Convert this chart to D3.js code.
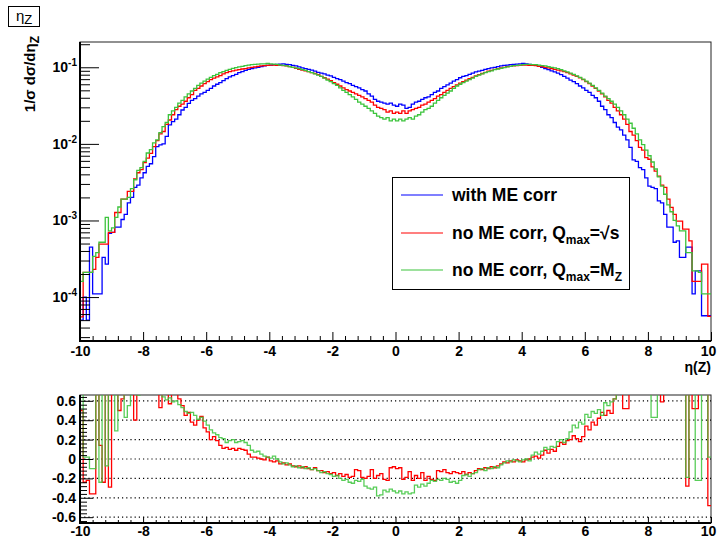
<!DOCTYPE html>
<html>
<head>
<meta charset="utf-8">
<script src="https://cdn.jsdelivr.net/npm/d3@7"></script>
<style>
  body { margin: 0; background: #fff; }
  text { font-family: "Liberation Sans", Arial, Helvetica, sans-serif; }
</style>
</head>
<body>
<svg id="chart" width="717" height="543"></svg>
<script>
// histogram binning: 200 bins of 0.1 from -10 to 10
const binLow = -10;
const binWidth = 0.1;

// 1/sigma dsigma/deta_Z, with ME corr (blue)
const withME = [
  5.0e-5, 1.0e-4, 5.0e-5, 4.5e-4, 1.1e-4, 1.1e-4, 1.1e-4, 3.3e-4, 2.7e-4, 6.8e-4,
  7.0e-4, 8.2e-4, 8.2e-4, 1.03e-3, 1.2e-3, 1.7e-3, 2.0e-3, 2.7e-3, 2.9e-3, 3.6e-3,
  4.2e-3, 5.1e-3, 5.5e-3, 6.8e-3, 9.2e-3, 9.7e-3, 1.0e-2, 1.25e-2, 1.77e-2, 1.95e-2,
  2.1e-2, 2.4e-2, 2.77e-2, 3.0e-2, 3.37e-2, 3.7e-2, 3.9e-2, 4.2e-2, 4.5e-2, 4.7e-2,
  5.0e-2, 5.3e-2, 5.7e-2, 6.0e-2, 6.3e-2, 6.7e-2, 7.1e-2, 7.5e-2, 7.8e-2, 8.1e-2,
  8.5e-2, 8.8e-2, 9.1e-2, 9.4e-2, 9.6e-2, 9.8e-2, 1.00e-1, 1.02e-1, 1.04e-1, 1.06e-1,
  1.07e-1, 1.08e-1, 1.09e-1, 1.10e-1, 1.11e-1, 1.09e-1, 1.08e-1, 1.06e-1, 1.04e-1, 1.01e-1,
  9.8e-2, 9.6e-2, 9.4e-2, 9.2e-2, 8.9e-2, 8.6e-2, 8.4e-2, 8.2e-2, 7.9e-2, 7.7e-2,
  7.4e-2, 7.1e-2, 6.9e-2, 6.6e-2, 6.3e-2, 6.1e-2, 5.8e-2, 5.6e-2, 5.4e-2, 5.1e-2,
  4.9e-2, 4.5e-2, 4.2e-2, 3.8e-2, 3.6e-2, 3.5e-2, 3.4e-2, 3.3e-2, 3.4e-2, 3.2e-2,
  3.1e-2, 3.3e-2, 3.2e-2, 2.9e-2, 3.0e-2, 3.3e-2, 3.5e-2, 3.6e-2, 3.8e-2, 4.0e-2,
  4.1e-2, 4.4e-2, 4.7e-2, 4.9e-2, 5.3e-2, 5.6e-2, 5.9e-2, 6.2e-2, 6.6e-2, 6.9e-2,
  7.3e-2, 7.6e-2, 7.8e-2, 8.1e-2, 8.4e-2, 8.7e-2, 8.9e-2, 9.1e-2, 9.4e-2, 9.6e-2,
  9.8e-2, 1.00e-1, 1.02e-1, 1.04e-1, 1.06e-1, 1.07e-1, 1.08e-1, 1.09e-1, 1.10e-1, 1.11e-1,
  1.12e-1, 1.11e-1, 1.09e-1, 1.08e-1, 1.06e-1, 1.03e-1, 1.00e-1, 9.6e-2, 9.3e-2, 9.0e-2,
  8.7e-2, 8.4e-2, 8.0e-2, 7.6e-2, 7.2e-2, 6.8e-2, 6.5e-2, 6.1e-2, 5.7e-2, 5.4e-2,
  5.0e-2, 4.7e-2, 4.3e-2, 4.0e-2, 3.6e-2, 3.1e-2, 2.8e-2, 2.4e-2, 2.2e-2, 1.9e-2,
  1.65e-2, 1.52e-2, 1.3e-2, 1.13e-2, 9.0e-3, 6.2e-3, 5.9e-3, 4.9e-3, 4.6e-3, 3.6e-3,
  2.8e-3, 2.7e-3, 2.6e-3, 1.8e-3, 1.7e-3, 1.2e-3, 8.2e-4, 8.2e-4, 5.2e-4, 5.4e-4,
  3.3e-4, 3.3e-4, 4.5e-4, 4.5e-4, 1.1e-4, 2.2e-4, 2.2e-4, 5.7e-5, 5.7e-5, 5.7e-5
];

// no ME corr, Qmax = sqrt(s) (red)
const noMEsqrtS = [
  5.5e-5, 2.1e-4, 2.1e-4, 2.1e-4, 2.3e-4, 3.3e-4, 4.9e-4, 4.9e-4, 4.9e-4, 7.0e-4,
  7.0e-4, 1.27e-3, 1.27e-3, 1.9e-3, 1.9e-3, 2.4e-3, 2.4e-3, 3.5e-3, 4.2e-3, 4.6e-3,
  5.7e-3, 6.5e-3, 7.5e-3, 9.2e-3, 1.1e-2, 1.35e-2, 1.45e-2, 1.8e-2, 2.05e-2, 2.4e-2,
  2.8e-2, 3.1e-2, 3.3e-2, 3.6e-2, 4.0e-2, 4.4e-2, 5.0e-2, 5.3e-2, 5.7e-2, 6.1e-2,
  6.5e-2, 6.9e-2, 7.2e-2, 7.5e-2, 7.8e-2, 8.2e-2, 8.5e-2, 8.8e-2, 9.0e-2, 9.2e-2,
  9.3e-2, 9.5e-2, 9.6e-2, 9.8e-2, 1.00e-1, 1.01e-1, 1.03e-1, 1.04e-1, 1.05e-1, 1.06e-1,
  1.07e-1, 1.07e-1, 1.06e-1, 1.06e-1, 1.05e-1, 1.04e-1, 1.02e-1, 1.00e-1, 9.7e-2, 9.4e-2,
  9.2e-2, 9.0e-2, 8.8e-2, 8.5e-2, 8.3e-2, 8.0e-2, 7.6e-2, 7.3e-2, 7.0e-2, 6.7e-2,
  6.3e-2, 6.0e-2, 5.7e-2, 5.4e-2, 5.1e-2, 4.9e-2, 4.7e-2, 4.5e-2, 4.3e-2, 4.1e-2,
  3.9e-2, 3.7e-2, 3.5e-2, 3.2e-2, 3.0e-2, 2.9e-2, 2.8e-2, 2.6e-2, 2.7e-2, 2.5e-2,
  2.6e-2, 2.5e-2, 2.7e-2, 2.5e-2, 2.7e-2, 2.8e-2, 2.9e-2, 3.0e-2, 3.2e-2, 3.3e-2,
  3.5e-2, 3.7e-2, 3.9e-2, 4.2e-2, 4.4e-2, 4.7e-2, 5.0e-2, 5.3e-2, 5.6e-2, 5.9e-2,
  6.2e-2, 6.5e-2, 6.8e-2, 7.1e-2, 7.4e-2, 7.7e-2, 8.0e-2, 8.3e-2, 8.6e-2, 8.9e-2,
  9.1e-2, 9.4e-2, 9.6e-2, 9.8e-2, 1.00e-1, 1.02e-1, 1.03e-1, 1.04e-1, 1.05e-1, 1.06e-1,
  1.07e-1, 1.07e-1, 1.06e-1, 1.06e-1, 1.05e-1, 1.03e-1, 1.02e-1, 1.00e-1, 9.8e-2, 9.6e-2,
  9.4e-2, 9.2e-2, 9.0e-2, 8.8e-2, 8.5e-2, 8.2e-2, 7.9e-2, 7.6e-2, 7.3e-2, 6.9e-2,
  6.5e-2, 6.1e-2, 5.7e-2, 5.3e-2, 4.9e-2, 4.5e-2, 4.1e-2, 3.7e-2, 3.4e-2, 3.0e-2,
  2.7e-2, 2.4e-2, 2.1e-2, 1.8e-2, 1.45e-2, 1.3e-2, 1.1e-2, 9.0e-3, 8.3e-3, 6.6e-3,
  6.3e-3, 5.0e-3, 4.4e-3, 3.8e-3, 2.9e-3, 2.7e-3, 1.9e-3, 1.48e-3, 1.2e-3, 9.8e-4,
  9.8e-4, 7.7e-4, 7.7e-4, 5.4e-4, 1.6e-4, 1.6e-4, 1.6e-4, 2.7e-4, 2.7e-4, 5.6e-5
];

// no ME corr, Qmax = MZ (green)
const noMEmZ = [
  1.6e-4, 2.1e-4, 2.1e-4, 2.1e-4, 3.4e-4, 3.8e-4, 5.2e-4, 5.2e-4, 1.1e-3, 7.3e-4,
  8.0e-4, 1.1e-3, 1.5e-3, 1.9e-3, 1.9e-3, 2.0e-3, 2.6e-3, 3.4e-3, 4.5e-3, 4.9e-3,
  5.9e-3, 7.6e-3, 8.4e-3, 1.03e-2, 1.13e-2, 1.4e-2, 1.68e-2, 1.9e-2, 2.4e-2, 2.7e-2,
  3.0e-2, 3.4e-2, 3.7e-2, 4.1e-2, 4.5e-2, 4.9e-2, 5.3e-2, 5.8e-2, 6.2e-2, 6.6e-2,
  7.0e-2, 7.4e-2, 7.8e-2, 8.1e-2, 8.5e-2, 8.8e-2, 9.1e-2, 9.4e-2, 9.7e-2, 9.9e-2,
  1.01e-1, 1.03e-1, 1.05e-1, 1.07e-1, 1.08e-1, 1.09e-1, 1.10e-1, 1.11e-1, 1.11e-1, 1.12e-1,
  1.11e-1, 1.10e-1, 1.09e-1, 1.07e-1, 1.06e-1, 1.04e-1, 1.02e-1, 1.00e-1, 9.8e-2, 9.6e-2,
  9.3e-2, 9.1e-2, 8.8e-2, 8.5e-2, 8.2e-2, 7.9e-2, 7.6e-2, 7.2e-2, 6.8e-2, 6.5e-2,
  6.1e-2, 5.8e-2, 5.4e-2, 5.0e-2, 4.7e-2, 4.4e-2, 4.1e-2, 3.8e-2, 3.5e-2, 3.3e-2,
  3.1e-2, 2.9e-2, 2.7e-2, 2.5e-2, 2.3e-2, 2.2e-2, 2.1e-2, 2.2e-2, 2.0e-2, 2.1e-2,
  2.0e-2, 2.1e-2, 2.0e-2, 2.1e-2, 2.2e-2, 2.1e-2, 2.3e-2, 2.4e-2, 2.6e-2, 2.8e-2,
  2.9e-2, 3.1e-2, 3.4e-2, 3.7e-2, 4.0e-2, 4.3e-2, 4.6e-2, 4.9e-2, 5.3e-2, 5.7e-2,
  6.0e-2, 6.3e-2, 6.6e-2, 6.9e-2, 7.2e-2, 7.6e-2, 7.9e-2, 8.2e-2, 8.5e-2, 8.8e-2,
  9.0e-2, 9.3e-2, 9.5e-2, 9.7e-2, 9.9e-2, 1.01e-1, 1.03e-1, 1.05e-1, 1.06e-1, 1.07e-1,
  1.08e-1, 1.09e-1, 1.09e-1, 1.08e-1, 1.08e-1, 1.07e-1, 1.05e-1, 1.04e-1, 1.02e-1, 1.00e-1,
  9.8e-2, 9.6e-2, 9.3e-2, 9.0e-2, 8.7e-2, 8.4e-2, 8.1e-2, 7.7e-2, 7.4e-2, 7.0e-2,
  6.6e-2, 6.2e-2, 5.8e-2, 5.4e-2, 5.0e-2, 4.6e-2, 4.2e-2, 3.9e-2, 3.6e-2, 3.3e-2,
  3.0e-2, 2.7e-2, 2.4e-2, 2.1e-2, 1.86e-2, 1.6e-2, 1.35e-2, 1.13e-2, 9.8e-3, 8.3e-3,
  7.0e-3, 5.8e-3, 4.7e-3, 3.7e-3, 2.8e-3, 2.2e-3, 1.6e-3, 1.3e-3, 1.0e-3, 8.5e-4,
  7.3e-4, 7.3e-4, 3.8e-4, 3.8e-4, 2.2e-4, 2.2e-4, 2.1e-4, 1.1e-4, 1.1e-4, 1.1e-4
];

// lower pad: relative difference to "with ME corr" (values above the frame are clipped)
const ratioSqrtS = [
  0.50, -0.24, -0.22, -0.36, -0.36, 0.90, 0.14, -0.24, 0.90, -0.29,
  0.90, 0.90, 0.50, 0.62, 0.90, 0.90, 0.90, 0.40, 0.90, 0.90,
  0.90, 0.90, 0.90, 0.90, 0.90, 0.53, 0.90, 0.90, 0.57, 0.90,
  0.90, 0.62, 0.55, 0.45, 0.48, 0.38, 0.35, 0.40, 0.44, 0.32,
  0.28, 0.20, 0.23, 0.19, 0.14, 0.11, 0.12, 0.10, 0.11, 0.09,
  0.11, 0.10, 0.09, 0.05, 0.02, 0.02, 0.01, 0.00, -0.01, 0.02,
  -0.02, -0.03, -0.02, -0.05, -0.04, -0.06, -0.05, -0.07, -0.08, -0.07,
  -0.09, -0.08, -0.10, -0.11, -0.09, -0.12, -0.12, -0.14, -0.13, -0.15,
  -0.14, -0.17, -0.15, -0.18, -0.16, -0.19, -0.18, -0.11, -0.12, -0.19,
  -0.20, -0.18, -0.11, -0.20, -0.17, -0.15, -0.21, -0.22, -0.09, -0.08,
  -0.10, -0.09, -0.21, -0.19, -0.13, -0.22, -0.17, -0.20, -0.14, -0.22,
  -0.18, -0.21, -0.22, -0.12, -0.13, -0.11, -0.14, -0.15, -0.13, -0.14,
  -0.15, -0.13, -0.16, -0.14, -0.15, -0.12, -0.10, -0.11, -0.09, -0.10,
  -0.08, -0.09, -0.07, -0.05, -0.03, -0.04, -0.02, -0.03, -0.01, -0.02,
  -0.03, -0.01, 0.00, 0.02, 0.03, 0.01, 0.04, 0.09, 0.06, 0.10,
  0.08, 0.13, 0.17, 0.15, 0.19, 0.20, 0.24, 0.21, 0.18, 0.23,
  0.34, 0.30, 0.38, 0.35, 0.42, 0.48, 0.45, 0.50, 0.47, 0.62,
  0.90, 0.90, 0.52, 0.52, 0.90, 0.90, 0.90, 0.90, 0.90, 0.90,
  0.90, 0.90, 0.90, 0.90, 0.59, 0.90, 0.90, 0.90, 0.90, 0.90,
  0.90, 0.90, -0.28, 0.90, 0.52, 0.52, 0.90, 0.90, 0.90, -0.48
];

const ratioMZ = [
  0.90, 0.02, 0.02, -0.10, -0.10, 0.90, -0.24, 0.90, -0.07, 0.90,
  0.90, 0.29, 0.90, 0.90, 0.43, 0.55, 0.90, 0.90, 0.66, 0.90,
  0.90, 0.90, 0.90, 0.90, 0.90, 0.90, 0.64, 0.61, 0.63, 0.59,
  0.60, 0.56, 0.53, 0.49, 0.47, 0.48, 0.45, 0.41, 0.43, 0.39,
  0.35, 0.30, 0.27, 0.25, 0.22, 0.21, 0.17, 0.19, 0.20, 0.17,
  0.18, 0.19, 0.17, 0.14, 0.09, 0.07, 0.08, 0.05, 0.03, 0.02,
  0.01, 0.03, 0.00, -0.03, -0.05, -0.04, -0.06, -0.08, -0.07, -0.09,
  -0.08, -0.10, -0.09, -0.11, -0.10, -0.12, -0.14, -0.13, -0.15, -0.16,
  -0.18, -0.17, -0.20, -0.22, -0.21, -0.24, -0.25, -0.22, -0.23, -0.21,
  -0.28, -0.30, -0.31, -0.29, -0.38, -0.37, -0.32, -0.34, -0.31, -0.33,
  -0.35, -0.33, -0.36, -0.34, -0.36, -0.35, -0.27, -0.29, -0.26, -0.28,
  -0.25, -0.22, -0.23, -0.21, -0.22, -0.20, -0.21, -0.24, -0.23, -0.25,
  -0.22, -0.17, -0.16, -0.18, -0.15, -0.14, -0.11, -0.10, -0.12, -0.09,
  -0.10, -0.08, -0.09, -0.06, -0.04, -0.02, -0.03, -0.01, -0.02, -0.03,
  -0.01, 0.00, -0.02, 0.04, 0.07, 0.05, 0.08, 0.12, 0.10, 0.13,
  0.12, 0.18, 0.20, 0.17, 0.21, 0.28, 0.35, 0.32, 0.38, 0.36,
  0.46, 0.43, 0.49, 0.47, 0.51, 0.45, 0.58, 0.55, 0.59, 0.62,
  0.90, 0.90, 0.90, 0.90, 0.90, 0.90, 0.90, 0.90, 0.90, 0.90,
  0.90, 0.43, 0.43, 0.90, 0.90, 0.90, 0.90, 0.90, 0.90, 0.90,
  0.90, 0.90, -0.19, 0.90, 0.90, -0.22, -0.22, 0.90, 0.90, 0.02
];

const xTicks = [-10, -8, -6, -4, -2, 0, 2, 4, 6, 8, 10];
const yDecades = [1e-4, 1e-3, 1e-2, 1e-1];
const yDecadeExp = ["-4", "-3", "-2", "-1"];
const ratioTicks = [-0.6, -0.4, -0.2, 0, 0.2, 0.4, 0.6];
const ratioLabels = ["-0.6", "-0.4", "-0.2", "0", "0.2", "0.4", "0.6"];

const legendEntries = [
  { key: "withME", color: "#0000ff" },
  { key: "sqrtS", color: "#ff0000" },
  { key: "mZ", color: "#3cc43c" }
];
const colors = { withME: "#0000ff", sqrtS: "#ff0000", mZ: "#3cc43c" };

// ================================
// scales
// ================================
const svg = d3.select("#chart");

const x = d3.scaleLinear().domain([-10, 10]).range([80, 711]);
const y = d3.scaleLog().domain([2.67e-5, 0.2138]).range([341, 42]);
const yr = d3.scaleLinear().domain([-0.66, 0.66]).range([523, 395]);

// step outline of a histogram
const toSteps = vals => {
  const pts = vals.map((v, i) => [binLow + i * binWidth, v]);
  pts.push([binLow + vals.length * binWidth, vals[vals.length - 1]]);
  return pts;
};

// the last x label sits on the window edge, nudge it in
const nudgeLast = g => g.selectAll(".tick text").attr("dx", d => d === 10 ? -3 : 0);

// ================================
// title box
// ================================
svg.append("rect")
  .attr("x", 8.5).attr("y", 6.5).attr("width", 31).attr("height", 20)
  .attr("fill", "#fff").attr("stroke", "#000").attr("stroke-width", 1);
svg.append("text")
  .attr("x", 16).attr("y", 21)
  .attr("font-size", 15)
  .text("η")
  .append("tspan").attr("dy", 3).attr("font-size", 13).text("Z");

// ================================
// main pad
// ================================
svg.append("rect")
  .attr("x", 80).attr("y", 42).attr("width", 631).attr("height", 299)
  .attr("fill", "none").attr("stroke", "#222").attr("stroke-width", 1);

svg.append("clipPath").attr("id", "mainClip")
  .append("rect").attr("x", 80).attr("y", 42).attr("width", 631).attr("height", 299);

const line = d3.line()
  .curve(d3.curveStepAfter)
  .x(d => x(d[0]))
  .y(d => y(d[1]));

const histos = svg.append("g").attr("clip-path", "url(#mainClip)")
  .attr("fill", "none").attr("stroke-width", 1.3);

histos.append("path").attr("d", line(toSteps(withME))).attr("stroke", colors.withME);
histos.append("path").attr("d", line(toSteps(noMEsqrtS))).attr("stroke", colors.sqrtS);
histos.append("path").attr("d", line(toSteps(noMEmZ))).attr("stroke", colors.mZ);

// y axis (log)
const yMinor = [];
[1e-5, 1e-4, 1e-3, 1e-2, 1e-1].forEach(d => {
  for (let k = 2; k <= 9; k++) {
    const v = k * d;
    if (v > y.domain()[0] && v < y.domain()[1]) yMinor.push(v);
  }
});

svg.append("g")
  .attr("transform", "translate(80,0)")
  .call(d3.axisRight(y).tickValues(yMinor).tickSize(10).tickFormat(""))
  .call(g => g.select(".domain").remove());
svg.append("g")
  .attr("transform", "translate(80,0)")
  .call(d3.axisRight(y).tickValues(yDecades).tickSize(19).tickFormat(""))
  .call(g => g.select(".domain").remove());

const yLab = svg.append("g")
  .attr("font-size", 14).attr("font-weight", "bold").attr("text-anchor", "end");
yDecades.forEach((v, i) => {
  const t = yLab.append("text").attr("x", 77).attr("y", y(v) + 5).text("10");
  t.append("tspan").attr("dy", -6).attr("font-size", 10).text(yDecadeExp[i]);
});

svg.append("text")
  .attr("transform", "translate(35,36) rotate(-90)")
  .attr("text-anchor", "end")
  .attr("font-size", 15).attr("font-weight", "bold")
  .text("1/σ dσ/dη")
  .append("tspan").attr("dy", 4).attr("font-size", 12).text("Z");

// x axis
const xMinor = d3.range(-10, 10.001, 0.4).filter(v => Math.abs(v / 2 - Math.round(v / 2)) > 1e-6);

svg.append("g")
  .attr("transform", "translate(0,341)")
  .call(d3.axisBottom(x).tickValues(xMinor).tickSizeInner(-5).tickSizeOuter(0).tickFormat(""))
  .call(g => g.select(".domain").remove());
svg.append("g")
  .attr("transform", "translate(0,341)")
  .call(d3.axisBottom(x).tickValues(xTicks).tickSizeInner(-9).tickSizeOuter(0)
    .tickPadding(5).tickFormat(d => String(d)))
  .call(g => g.select(".domain").remove())
  .call(g => g.selectAll("text").attr("font-size", 14).attr("font-weight", "bold")
    .attr("fill", "#000").attr("font-family", "Liberation Sans, Arial, sans-serif"))
  .call(nudgeLast);

svg.append("line").attr("x1", 80).attr("x2", 80).attr("y1", 42).attr("y2", 341)
  .attr("stroke", "#000").attr("stroke-width", 2);
svg.append("line").attr("x1", 79).attr("x2", 711).attr("y1", 341).attr("y2", 341)
  .attr("stroke", "#000").attr("stroke-width", 2);

svg.append("text")
  .attr("x", 711).attr("y", 372)
  .attr("text-anchor", "end")
  .attr("font-size", 14).attr("font-weight", "bold")
  .text("η(Z)");

// legend
const leg = svg.append("g");
leg.append("rect")
  .attr("x", 392.5).attr("y", 177.5).attr("width", 237).attr("height", 112)
  .attr("fill", "#fff").attr("stroke", "#000").attr("stroke-width", 1);

const legY = [195, 233, 270];
legendEntries.forEach((e, i) => {
  leg.append("line")
    .attr("x1", 401).attr("x2", 443).attr("y1", legY[i]).attr("y2", legY[i])
    .attr("stroke", e.color).attr("stroke-width", 1.2);
});

const legText = (i) => leg.append("text")
  .attr("x", 452).attr("y", legY[i] + 6)
  .attr("font-size", 17.5).attr("font-weight", "bold");

legText(0).text("with ME corr");

const l2 = legText(1);
l2.append("tspan").text("no ME corr, Q");
l2.append("tspan").attr("dy", 5).attr("font-size", 12).text("max");
l2.append("tspan").attr("dy", -5).text("=√s");

const l3 = legText(2);
l3.append("tspan").text("no ME corr, Q");
l3.append("tspan").attr("dy", 5).attr("font-size", 12).text("max");
l3.append("tspan").attr("dy", -5).text("=M");
l3.append("tspan").attr("dy", 5).attr("font-size", 12).text("Z");

// ================================
// ratio pad
// ================================
svg.append("rect")
  .attr("x", 80).attr("y", 395).attr("width", 631).attr("height", 128)
  .attr("fill", "none").attr("stroke", "#222").attr("stroke-width", 1);

svg.append("clipPath").attr("id", "ratioClip")
  .append("rect").attr("x", 80).attr("y", 395).attr("width", 631).attr("height", 128);

// dotted grid
svg.append("g")
  .selectAll("line")
  .data(ratioTicks)
  .join("line")
  .attr("x1", 80).attr("x2", 711)
  .attr("y1", d => yr(d)).attr("y2", d => yr(d))
  .attr("stroke", "#000").attr("stroke-width", 1.2)
  .attr("stroke-dasharray", "1.2,3");

const rline = d3.line()
  .curve(d3.curveStepAfter)
  .x(d => x(d[0]))
  .y(d => yr(d[1]));

const ratios = svg.append("g").attr("clip-path", "url(#ratioClip)")
  .attr("fill", "none").attr("stroke-width", 1.3);
ratios.append("path").attr("d", rline(toSteps(ratioSqrtS))).attr("stroke", colors.sqrtS);
ratios.append("path").attr("d", rline(toSteps(ratioMZ))).attr("stroke", colors.mZ)
  .attr("stroke-opacity", 0.85);

// ratio y axis
const rMinor = d3.range(-0.64, 0.65, 0.04).filter(v => Math.abs(v * 5 - Math.round(v * 5)) > 1e-6);
svg.append("g")
  .attr("transform", "translate(80,0)")
  .call(d3.axisRight(yr).tickValues(rMinor).tickSize(7).tickFormat(""))
  .call(g => g.select(".domain").remove());
svg.append("g")
  .attr("transform", "translate(80,0)")
  .call(d3.axisRight(yr).tickValues(ratioTicks).tickSize(13).tickFormat(""))
  .call(g => g.select(".domain").remove());

svg.append("g")
  .attr("font-size", 14).attr("font-weight", "bold").attr("text-anchor", "end")
  .selectAll("text")
  .data(ratioTicks)
  .join("text")
  .attr("x", 76).attr("y", d => yr(d) + 5)
  .text((d, i) => ratioLabels[i]);

// ratio x axis
svg.append("g")
  .attr("transform", "translate(0,523)")
  .call(d3.axisBottom(x).tickValues(xMinor).tickSizeInner(-3).tickSizeOuter(0).tickFormat(""))
  .call(g => g.select(".domain").remove());
svg.append("g")
  .attr("transform", "translate(0,523)")
  .call(d3.axisBottom(x).tickValues(xTicks).tickSizeInner(-6).tickSizeOuter(0)
    .tickPadding(3).tickFormat(d => String(d)))
  .call(g => g.select(".domain").remove())
  .call(g => g.selectAll("text").attr("font-size", 14).attr("font-weight", "bold")
    .attr("fill", "#000").attr("font-family", "Liberation Sans, Arial, sans-serif"))
  .call(nudgeLast);

svg.append("line").attr("x1", 80).attr("x2", 80).attr("y1", 395).attr("y2", 523)
  .attr("stroke", "#000").attr("stroke-width", 2);
svg.append("line").attr("x1", 79).attr("x2", 711).attr("y1", 523).attr("y2", 523)
  .attr("stroke", "#000").attr("stroke-width", 2);
</script>
</body>
</html>
